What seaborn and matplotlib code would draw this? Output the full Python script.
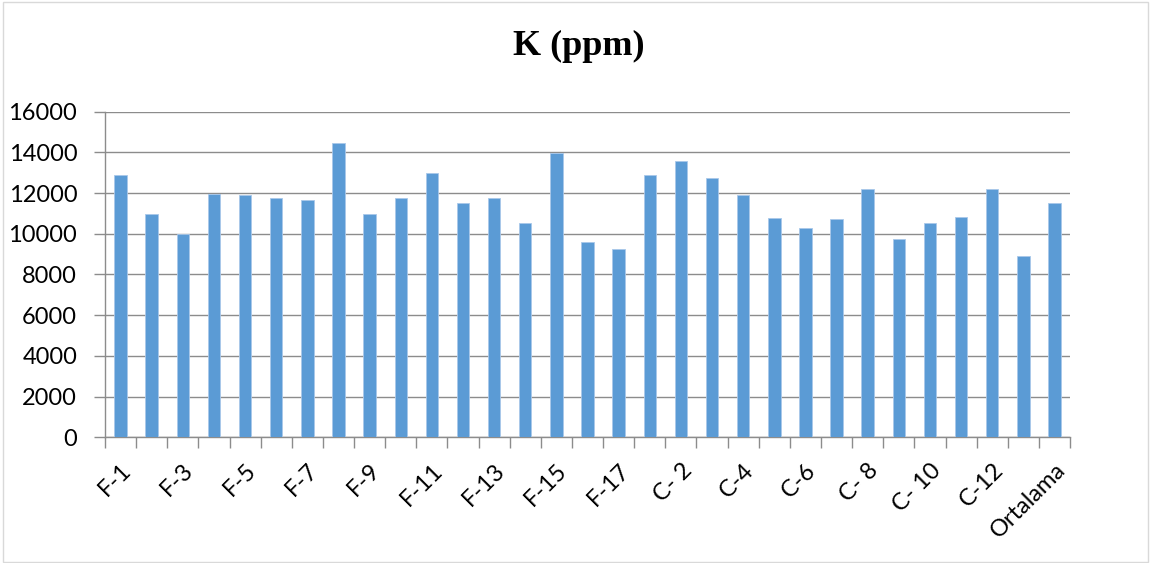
import matplotlib
matplotlib.use("Agg")
import matplotlib.pyplot as plt
import seaborn as sns
import pandas as pd
from matplotlib.patches import Rectangle

samples = [
    "F-1", "F-2", "F-3", "F-4", "F-5", "F-6", "F-7", "F-8", "F-9", "F-10",
    "F-11", "F-12", "F-13", "F-14", "F-15", "F-16", "F-17",
    "C-1", "C- 2", "C-3", "C-4", "C-5", "C-6", "C-7", "C- 8", "C-9",
    "C- 10", "C-11", "C-12", "C-13", "Ortalama",
]
k_ppm = [
    12870, 10990, 10010, 11970, 11890, 11780, 11640, 14440, 10960, 11780,
    13000, 11530, 11740, 10510, 13950, 9610, 9240,
    12870, 13560, 12740, 11890, 10790, 10300, 10710, 12180, 9760,
    10510, 10810, 12220, 8910, 11500,
]
y_ticks = [0, 2000, 4000, 6000, 8000, 10000, 12000, 14000, 16000]
title = "K (ppm)"

df = pd.DataFrame({"sample": samples, "K": k_ppm})

sns.set_theme(style="white")
plt.rcParams["font.family"] = ["Lato", "DejaVu Sans"]

fig = plt.figure(figsize=(11.51, 5.63), dpi=100)
ax = fig.add_axes([0.0912, 0.2233, 0.8385, 0.5783])

sns.barplot(data=df, x="sample", y="K", color="#5B9BD5", width=0.4,
            saturation=1, edgecolor="#A9C8EA", linewidth=0.6, ax=ax, zorder=3)

ax.set_ylim(0, 16000)
ax.set_xlim(-0.5, len(samples) - 0.5)
ax.set_yticks(y_ticks)
ax.set_yticklabels([str(v) for v in y_ticks], fontsize=17, color="black")
ax.yaxis.grid(True, color="#8C8C8C", linewidth=1.0, zorder=0)
ax.set_axisbelow(True)

# category labels on every other bar, tick marks on category boundaries
shown = list(range(0, len(samples), 2))
ax.set_xticks(shown)
ax.set_xticklabels([samples[i] for i in shown], rotation=45, ha="right",
                   rotation_mode="anchor", fontsize=17, color="black")
ax.set_xticks([i - 0.5 for i in range(len(samples) + 1)], minor=True)
ax.tick_params(axis="x", which="major", length=0, pad=16)
ax.tick_params(axis="x", which="minor", length=8, width=1, color="#8C8C8C",
               direction="out", bottom=True)
ax.tick_params(axis="y", which="major", length=8, width=1, color="#8C8C8C",
               direction="out", left=True, pad=12)

ax.set_xlabel("")
ax.set_ylabel("")
for side in ["top", "right"]:
    ax.spines[side].set_visible(False)
for side in ["left", "bottom"]:
    ax.spines[side].set_color("#8C8C8C")
    ax.spines[side].set_linewidth(1.0)

fig.text(0.503, 0.918, title, ha="center", va="center", fontsize=26,
         fontweight="bold", family="Liberation Serif", color="black")

fig.patches.append(Rectangle((0.003, 0.002), 0.994, 0.994, transform=fig.transFigure,
                             fill=False, edgecolor="#D9D9D9", linewidth=1))

fig.savefig("out.png", dpi=100)
